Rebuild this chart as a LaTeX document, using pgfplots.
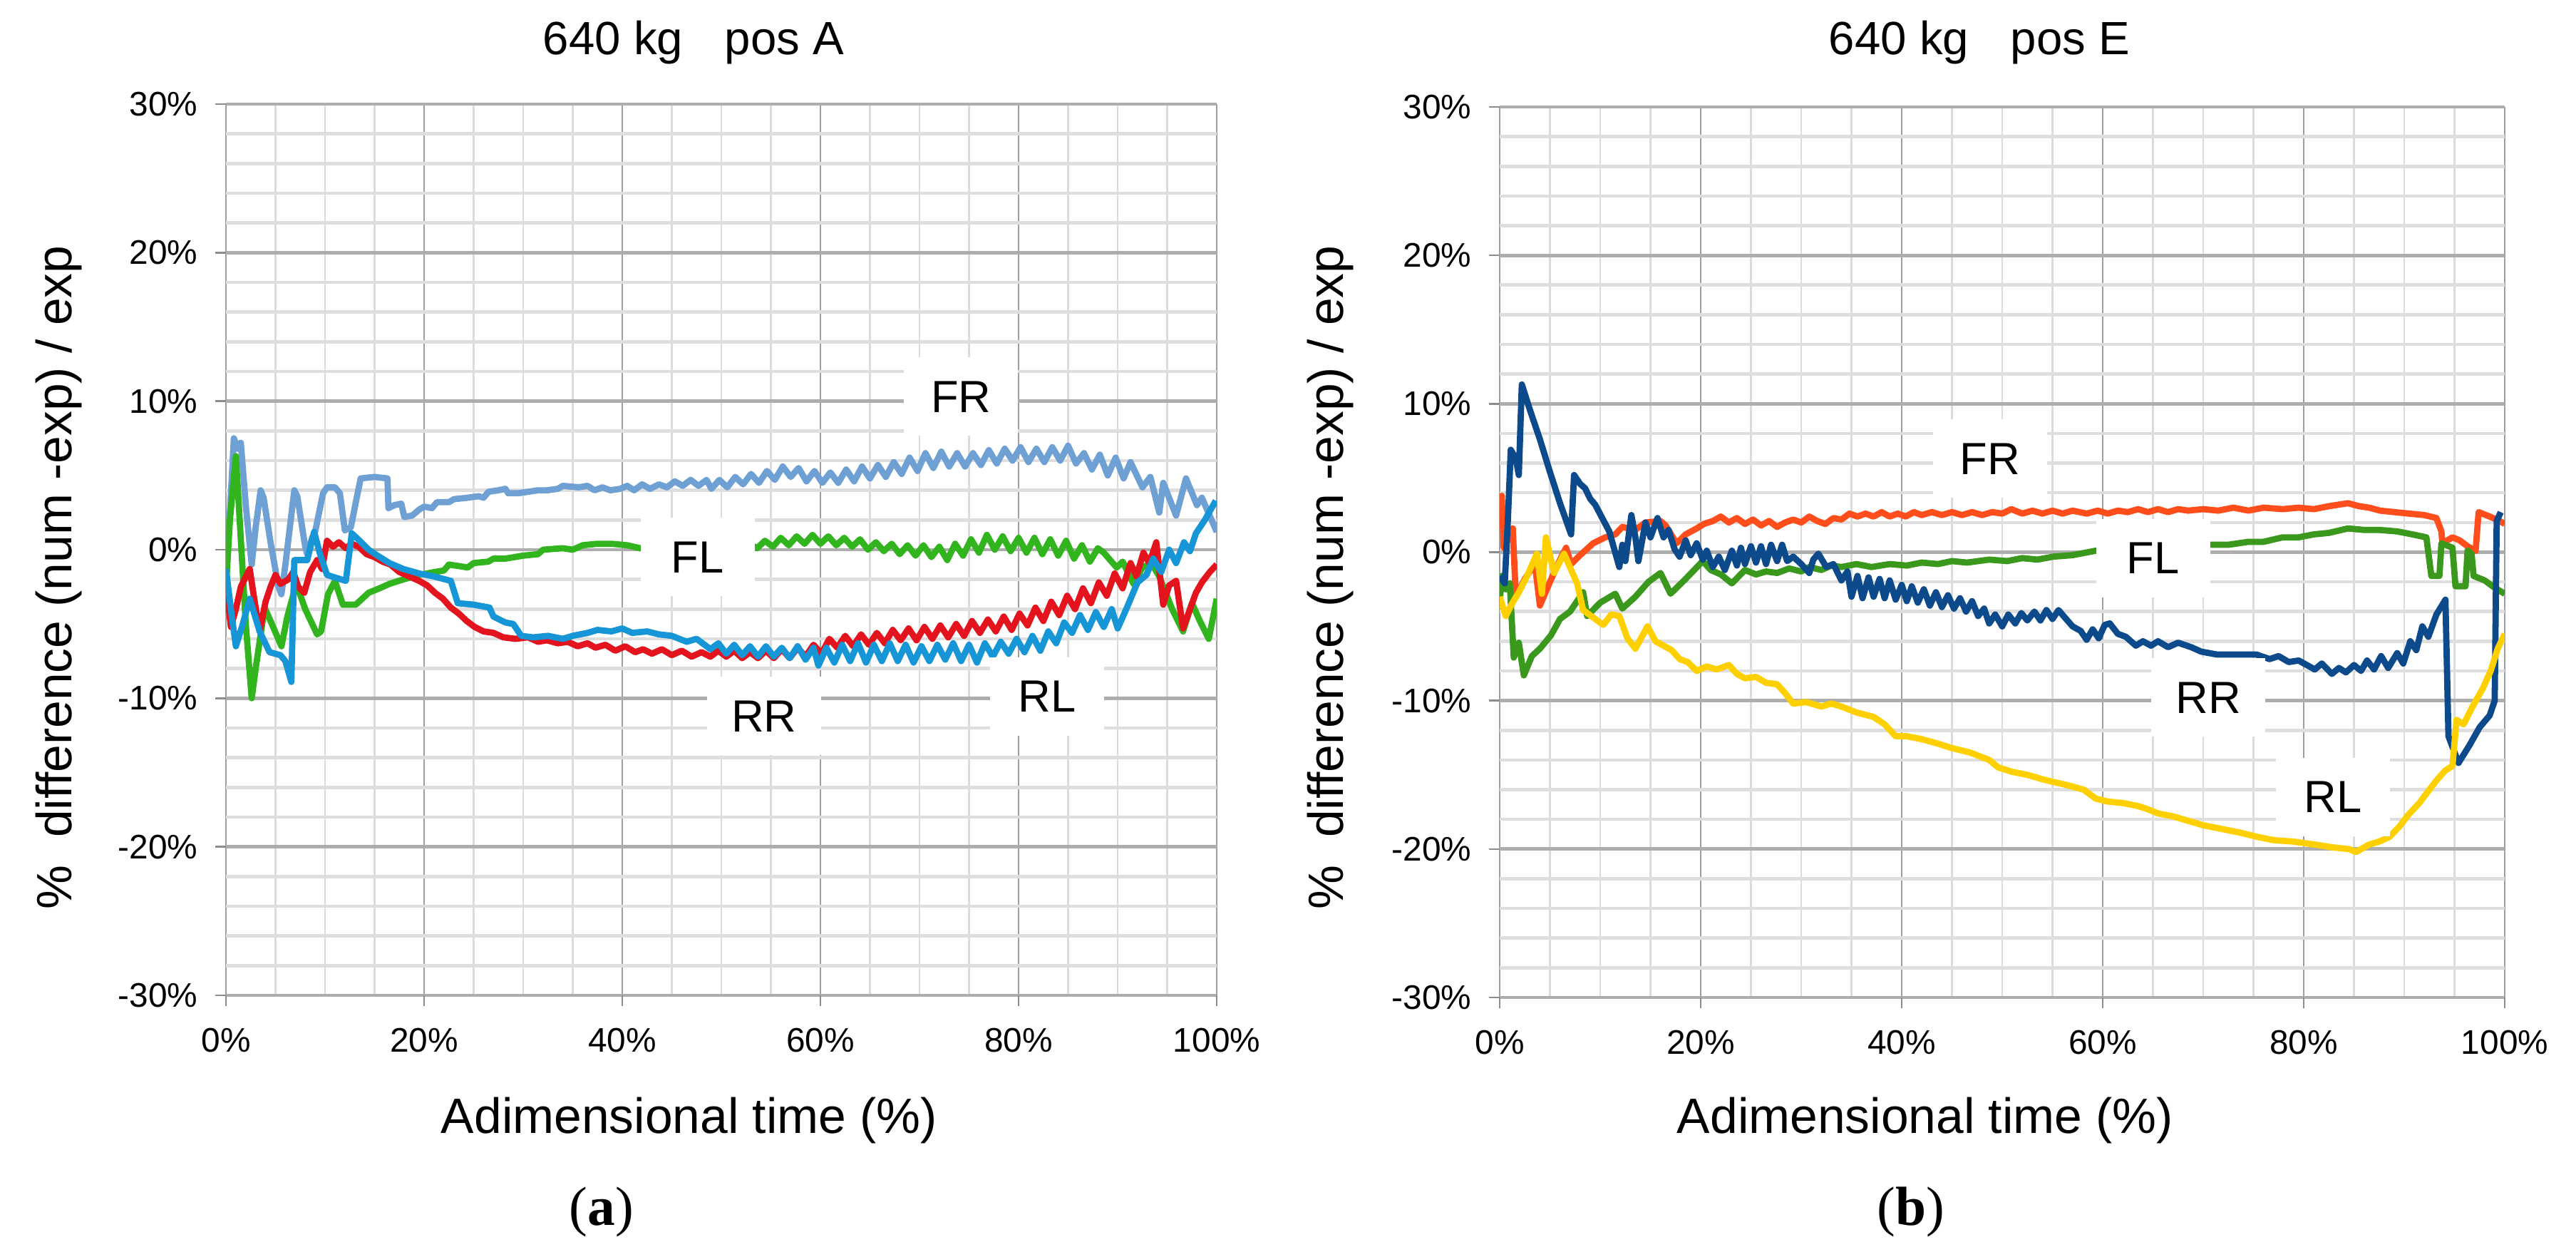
\documentclass[border=0pt]{standalone}
\usepackage{fontspec}
\setmainfont{Liberation Sans}
\newfontfamily\serifont{Liberation Serif}
\usepackage{pgfplots}
\pgfplotsset{compat=1.18}
\definecolor{lfr}{RGB}{110,160,212}
\definecolor{lfl}{RGB}{50,180,30}
\definecolor{lrr}{RGB}{228,20,30}
\definecolor{lrl}{RGB}{22,150,215}
\definecolor{rfr}{RGB}{255,78,28}
\definecolor{rfl}{RGB}{58,152,28}
\definecolor{rrr}{RGB}{12,74,140}
\definecolor{rrl}{RGB}{255,208,0}
\pgfplotsset{
  panel/.style={
    scale only axis, anchor=south west,
    xmin=0, xmax=100, ymin=-30, ymax=30,
    xtick={0,20,40,60,80,100},
    xticklabels={0\%,20\%,40\%,60\%,80\%,100\%},
    ytick={-30,-20,-10,0,10,20,30},
    yticklabels={-30\%,-20\%,-10\%,0\%,10\%,20\%,30\%},
    minor xtick={0,5,...,100},
    minor ytick={-30,-28,...,30},
    grid=both,
    major x grid style={draw=black!38, line width=0.35pt},
    minor x grid style={draw=black!14, line width=0.35pt},
    major y grid style={draw=black!32, line width=0.7pt},
    minor y grid style={draw=black!13, line width=0.65pt},
    axis line style={draw=none},
    tick pos=left, tick align=outside,
    major tick length=0.75mm, minor tick length=0pt,
    tick style={draw=black!45, line width=0.35pt},
    tick label style={font=\fontsize{6.8}{8}\selectfont},
    xticklabel style={yshift=-0.3mm},
    every axis plot/.append style={line width=1.25pt, line join=round, no markers},
  },
}
\tikzset{lbl/.style={fill=white, inner sep=0pt, minimum width=8mm, minimum height=5.5mm, font=\fontsize{9}{10}\selectfont}}
\begin{document}
\begin{tikzpicture}
\path[use as bounding box] (0,0) rectangle (180.7mm,88.15mm);
% ---------------- left panel ----------------
\begin{axis}[panel, at={(15.85mm,18.35mm)}, width=69.5mm, height=62.5mm]
% FR
\addplot[lfr] coordinates {
(0,0.6) (0.4,2.5) (0.8,7.5) (1.2,6.8) (1.5,7.2) (2.0,3.0) (2.6,-1.0) (3.0,1.5) (3.5,4.0) (3.8,3.5) (4.5,0.5) (5.3,-2.5) (5.6,-3.0) (6.0,-1.0) (6.9,4.0) (7.2,3.6) (8.0,0.2) (8.2,-0.3) (8.7,0.8) (9.0,1.2) (9.8,3.8) (10.2,4.2) (11.0,4.2) (11.5,3.8) (12.0,1.3) (12.6,1.5) (13.2,3.5) (13.6,4.8) (15.0,4.9) (16.3,4.8) (16.4,2.8) (17.0,3.0) (17.7,3.1) (18.0,2.2) (18.8,2.3) (19.5,2.7) (20.0,2.9) (20.8,2.8) (21.3,3.2) (22.5,3.2) (23.0,3.4) (24.4,3.5) (25.5,3.6) (26.0,3.5) (26.5,3.9) (27.5,4.0) (28.2,4.1) (28.5,3.8) (29.5,3.8) (30.5,3.9) (31.5,4.0) (32.4,4.0) (33.5,4.1) (34.0,4.3) (35.6,4.2) (36.5,4.3) (37.2,4.0) (38.0,4.2) (38.8,4.0) (39.8,4.1) (40.5,4.3) (41.2,4.0) (42.0,4.4) (42.8,4.1) (43.7,4.4) (44.5,4.2) (45.3,4.6) (46.1,4.3) (46.9,4.7) (47.7,4.3) (48.5,4.7)
(49.0,4.1) (49.8,4.7) (50.6,4.2) (51.4,4.9) (52.2,4.4) (53.0,5.1) (53.8,4.5) (54.6,5.3) (55.4,4.7) (56.2,5.6) (57.0,4.9) (57.8,5.5) (58.6,4.6) (59.4,5.3) (60.2,4.5) (61.0,5.2) (61.8,4.5) (62.6,5.4) (63.4,4.6) (64.2,5.6) (65.0,4.8) (65.8,5.7) (66.6,4.9) (67.4,5.9) (68.2,5.1) (69.0,6.2) (69.8,5.3) (70.6,6.5) (71.4,5.5) (72.2,6.6) (73.0,5.6) (73.8,6.5) (74.6,5.6) (75.4,6.5) (76.2,5.7) (77.0,6.7) (77.8,5.8) (78.6,6.8) (79.4,6.0) (80.2,6.9) (81.0,5.9) (81.8,6.8) (82.6,5.9) (83.4,6.9) (84.2,6.0) (85.0,7.0) (85.8,5.8) (86.6,6.5) (87.4,5.4) (88.2,6.4) (89.0,5.0) (89.8,6.2) (90.6,4.8) (91.3,5.9) (92.5,4.2) (93.3,4.9) (94.2,2.5) (94.6,4.5) (95.9,2.3) (96.9,4.8) (98.0,3.0) (98.5,3.5) (100,1.2)
};
% FL
\addplot[lfl] coordinates {
(0,-2.6) (0.4,2) (1.0,6.3) (1.3,3.0) (2.0,-5.0) (2.6,-10.0) (3.0,-8.0) (3.9,-3.9) (4.5,-4.8) (5.6,-6.5) (6.2,-4.5) (7.1,-2.3) (8.0,-4.0) (9.2,-5.7) (9.6,-5.5) (10.3,-3.0) (11.0,-2.1) (11.8,-3.7) (13.1,-3.7) (14.4,-2.9) (15.5,-2.6) (16.5,-2.3) (17.9,-2.0) (19.5,-1.7) (21.1,-1.5) (22.0,-1.4) (22.5,-1.0) (23.5,-1.1) (24.4,-1.2) (25.0,-0.9) (26.5,-0.8) (27.0,-0.6) (28.2,-0.6) (30.0,-0.4) (31.5,-0.3) (32.0,0.0) (34.0,0.1) (35.0,0.0) (36.0,0.3) (37.5,0.4) (38.9,0.4) (40.5,0.3) (41.8,0.1) (44,0.2) (47,0.3) (50,0.3) (52.8,0.4)
(53.6,0.1) (54.4,0.6) (55.2,0.2) (56.0,0.8) (56.8,0.3) (57.6,0.9) (58.4,0.4) (59.2,1.0) (60.0,0.4) (60.8,0.9) (61.6,0.3) (62.4,0.8) (63.2,0.2) (64.0,0.7) (64.8,0.0) (65.6,0.5) (66.4,-0.1) (67.2,0.4) (68.0,-0.3) (68.8,0.3) (69.6,-0.4) (70.4,0.3) (71.2,-0.5) (72.0,0.2) (72.8,-0.7) (73.6,0.4) (74.4,-0.4) (75.2,0.7) (76.0,-0.2) (76.8,1.0) (77.6,0.0) (78.4,0.9) (79.2,-0.1) (80.0,0.8) (80.8,-0.2) (81.6,0.8) (82.4,-0.3) (83.2,0.7) (84.0,-0.4) (84.8,0.6) (85.6,-0.6) (86.4,0.3) (87.2,-0.8) (88.0,0.1) (88.6,-0.2) (89.9,-1.2) (90.5,-0.8) (91.6,-2.3) (92.5,-1.2) (93.4,-0.9) (94.2,-1.8) (95.5,-4.0) (96.6,-5.5) (97.5,-3.6) (98.3,-4.8) (99.2,-6.0) (100,-3.3)
};
% RR
\addplot[lrr] coordinates {
(0,-2.3) (0.5,-5.2) (1.0,-4.0) (1.5,-2.5) (2.4,-1.3) (2.9,-3.5) (3.4,-5.5) (4.0,-3.5) (4.5,-2.5) (5.0,-1.7) (5.5,-2.3) (6.3,-2.0) (6.8,-1.5) (7.3,-2.5) (7.9,-2.9) (8.5,-1.5) (9.2,-0.7) (9.7,-1.3) (10.2,0.6) (10.8,0.2) (11.4,0.5) (12.1,0.1) (12.7,0.4) (13.4,0.2) (14.2,-0.3) (15.0,-0.5) (15.8,-0.8) (16.6,-1.0) (17.5,-1.5) (18.5,-1.8) (19.5,-2.1) (20.3,-2.4) (21.1,-2.9) (21.9,-3.3) (22.7,-3.9) (23.5,-4.3) (24.3,-4.8) (25.1,-5.2) (26.0,-5.5) (27.0,-5.6) (28.0,-5.9) (29.2,-6.0) (30.5,-5.9) (31.5,-6.2) (32.4,-6.1) (33.5,-6.3) (34.5,-6.2) (35.5,-6.5) (36.5,-6.3) (37.3,-6.6) (38.3,-6.4) (39.3,-6.8) (40.3,-6.5) (41.3,-6.9) (42.1,-6.7) (43.0,-7.0) (44.0,-6.7) (45.0,-7.1) (46.0,-6.8) (47.0,-7.2) (48.0,-6.9) (48.9,-7.2)
(49.7,-6.8) (50.5,-7.2) (51.3,-6.8) (52.1,-7.3) (52.9,-6.9) (53.7,-7.3) (54.5,-6.8) (55.3,-7.3) (56.1,-6.7) (56.9,-7.3) (57.7,-6.6) (58.5,-7.2) (59.3,-6.4) (60.1,-7.0) (60.9,-6.0) (61.7,-6.6) (62.5,-5.8) (63.3,-6.5) (64.1,-5.7) (64.9,-6.4) (65.7,-5.6) (66.5,-6.3) (67.3,-5.4) (68.1,-6.1) (68.9,-5.3) (69.7,-6.1) (70.5,-5.2) (71.3,-6.0) (72.1,-5.1) (72.9,-5.9) (73.7,-5.0) (74.5,-5.8) (75.3,-4.8) (76.1,-5.6) (76.9,-4.7) (77.7,-5.5) (78.5,-4.5) (79.3,-5.4) (80.1,-4.3) (80.9,-5.1) (81.7,-3.9) (82.5,-4.8) (83.3,-3.5) (84.1,-4.4) (84.9,-3.1) (85.7,-4.0) (86.5,-2.6) (87.3,-3.6) (88.1,-2.2) (88.9,-3.1) (89.7,-1.6) (90.5,-2.6) (91.3,-0.9) (91.9,-1.8) (92.6,-0.2) (93.2,-0.9) (93.9,0.5) (94.6,-3.7) (95.2,-2.4) (95.9,-2.1) (96.6,-5.3) (97.9,-2.9) (98.5,-2.2) (99.3,-1.5) (100,-1.0)
};
% RL
\addplot[lrl] coordinates {
(0,-1.3) (0.5,-4.0) (1.0,-6.5) (1.7,-5.0) (2.4,-3.3) (3.4,-5.5) (4.4,-6.9) (5.5,-7.1) (6.0,-7.5) (6.6,-8.9) (6.9,-0.7) (8.2,-0.7) (8.9,1.2) (9.5,-0.3) (10.2,-1.7) (12.1,-2.1) (12.7,1.1) (13.5,0.6) (14.4,0.0) (15.3,-0.4) (16.5,-0.9) (17.9,-1.3) (19.5,-1.6) (21.0,-1.8) (22.7,-2.1) (23.4,-3.6) (25.0,-3.7) (26.6,-3.9) (27.0,-4.5) (28.2,-4.9) (29.0,-5.0) (29.8,-5.8) (31.0,-5.9) (32.5,-5.8) (34.0,-6.0) (35.0,-5.8) (36.5,-5.6) (37.5,-5.4) (38.9,-5.5) (40.0,-5.3) (41.0,-5.6) (42.5,-5.5) (43.7,-5.7) (45.0,-5.8) (46.5,-6.2) (47.5,-6.0) (48.9,-6.7)
(49.7,-6.3) (50.5,-7.0) (51.3,-6.4) (52.1,-7.1) (52.9,-6.5) (53.7,-7.2) (54.5,-6.5) (55.3,-7.2) (56.1,-6.6) (56.9,-7.3) (57.7,-6.5) (58.5,-7.4) (59.3,-6.6) (59.8,-7.8) (60.6,-6.6) (61.4,-7.6) (62.2,-6.4) (63.0,-7.5) (63.8,-6.3) (64.6,-7.6) (65.4,-6.4) (66.2,-7.5) (67.0,-6.3) (67.8,-7.5) (68.6,-6.4) (69.4,-7.6) (70.2,-6.5) (71.0,-7.5) (71.8,-6.4) (72.6,-7.4) (73.4,-6.3) (74.2,-7.5) (75.0,-6.4) (75.8,-7.6) (76.6,-6.3) (77.4,-7.2) (78.2,-6.2) (79.0,-7.0) (79.8,-6.0) (80.6,-6.9) (81.4,-5.8) (82.2,-6.8) (83.0,-5.5) (83.8,-6.3) (84.6,-4.9) (85.4,-5.6) (86.2,-4.4) (87.0,-5.4) (87.8,-4.2) (88.6,-5.2) (89.4,-4.0) (90.0,-5.3) (91.0,-3.8) (92.0,-2.2) (92.9,-1.7) (93.6,-0.6) (94.4,-1.5) (95.2,0.0) (95.9,-0.9) (96.7,0.5) (97.3,-0.1) (97.9,1.1) (98.8,2.0) (99.9,3.3)
};
\node[lbl] at (axis cs:74.2,10.3) {FR};
\node[lbl] at (axis cs:47.6,-0.5) {FL};
\node[lbl] at (axis cs:54.3,-11.2) {RR};
\node[lbl] at (axis cs:82.9,-9.9) {RL};
\end{axis}
% ---------------- right panel ----------------
\begin{axis}[panel, at={(105.2mm,18.2mm)}, width=70.5mm, height=62.45mm]
% FR
\addplot[rfr] coordinates {
(0,3.1) (0.2,3.8) (0.4,0.3) (0.9,1.0) (1.3,1.6) (1.6,-3.0) (2.5,-1.8) (3.5,-0.8) (4.0,-3.6) (5.0,-2.0) (6.0,-0.5) (6.6,0.3) (7.1,-0.8) (8.0,-0.2) (9.3,0.6) (10.5,1.0) (11.5,1.2) (12.2,1.7) (13.5,1.5) (14.5,2.0) (16.0,2.1) (16.5,1.8) (17.6,0.6) (18.5,1.2) (19.6,1.6) (20.3,1.9) (21.2,2.1) (22.0,2.4) (22.8,2.0) (23.6,2.3) (24.4,1.9) (25.2,2.2) (26.0,1.8) (26.8,2.1) (27.6,1.7) (28.4,2.0) (29.2,2.2) (30.0,2.0) (30.8,2.4) (31.6,2.1) (32.4,1.9) (33.2,2.3) (34.0,2.2) (34.8,2.6) (35.6,2.4) (36.4,2.6) (37.2,2.4) (38.0,2.7) (38.8,2.4) (39.6,2.6) (40.4,2.4) (41.2,2.7) (42.0,2.5) (43.0,2.7) (44.0,2.5) (45.0,2.7) (46.0,2.5) (47.0,2.7) (48.0,2.5) (49.0,2.7) (50.0,2.6) (50.9,2.9) (52.0,2.6) (53.0,2.8) (54.0,2.6) (55.0,2.8) (56.0,2.6) (57.0,2.8) (58.4,2.6) (59.5,2.8) (60.5,2.6) (61.5,2.8) (62.5,2.7) (63.5,2.9) (64.5,2.7) (65.5,2.9) (66.5,2.7) (67.5,2.9) (68.5,2.8) (70,2.9) (71.5,2.8) (73,3.0) (74.5,2.8) (76,3.0) (77.9,2.9) (79.5,3.0) (81,2.9) (82.5,3.1) (84.4,3.3) (85.5,3.1) (86.5,3.0) (87.6,2.8) (89,2.7) (90.5,2.6) (92,2.5) (93.2,2.3) (93.7,1.4) (93.8,0.6) (94.8,1.0) (95.5,0.8) (96.3,0.4) (97.1,0.1) (97.4,2.7) (98.5,2.4) (99.5,2.1) (100,1.9)
};
% FL
\addplot[rfl] coordinates {
(0,-3.4) (0.2,-1.6) (0.6,-2.5) (1.0,-2.1) (1.4,-7.1) (1.9,-6.1) (2.4,-8.3) (3.2,-7.0) (4.0,-6.5) (5.1,-5.6) (6.0,-4.5) (7.0,-4.0) (8.3,-2.7) (8.7,-4.3) (10.0,-3.4) (11.5,-2.8) (12.2,-3.8) (13.5,-3.0) (14.8,-2.0) (16.0,-1.4) (17.0,-2.8) (18.5,-1.8) (20.2,-0.6) (21.0,-1.2) (22.0,-1.5) (23.1,-2.1) (24.4,-1.2) (25.5,-1.5) (26.5,-1.3) (27.6,-1.4) (28.8,-1.1) (30.0,-1.3) (30.8,-1.0) (32.0,-1.2) (33.0,-0.9) (34.0,-1.0) (35.5,-0.8) (37.0,-1.0) (38.8,-0.8) (40.5,-0.9) (42.0,-0.7) (43.6,-0.8) (45.0,-0.6) (46.5,-0.7) (48.7,-0.5) (50.5,-0.6) (52.0,-0.4) (53.5,-0.5) (55.1,-0.3) (57.0,-0.2) (59.3,0.1) (62.0,0.1) (65.0,0.3) (68.0,0.3) (70.7,0.5) (72.5,0.5) (74.5,0.7) (76.0,0.7) (77.9,1.0) (79.5,1.0) (81.0,1.2) (82.5,1.3) (84.4,1.6) (86.0,1.5) (87.5,1.5) (89.3,1.4) (90.8,1.2) (92.2,1.0) (92.7,-1.6) (93.5,-1.6) (93.7,0.6) (94.8,0.3) (95.1,-2.3) (96.1,-2.3) (96.3,0.1) (96.7,-0.1) (96.9,-1.6) (98.0,-1.9) (99.0,-2.4) (100,-2.8)
};
% RR
\addplot[rrr] coordinates {
(0,-1.6) (0.5,-2.1) (0.8,2.0) (1.1,6.9) (1.6,6.3) (1.9,5.2) (2.2,11.3) (3.0,9.6) (4.0,7.6) (5.0,5.4) (6.0,3.3) (7.1,1.2) (7.4,5.2) (8.0,4.6) (8.5,4.3) (9.0,3.6) (9.5,3.2) (10.2,2.3) (10.9,1.4) (11.4,0.2) (11.9,-1.0) (12.2,0.5) (12.5,-0.6) (13.1,2.5) (13.5,1.0) (13.8,-0.6) (14.5,2.0) (15.0,1.0) (15.7,2.3) (16.3,1.0) (16.8,1.5) (17.4,0.2) (17.9,-0.3) (18.5,0.8) (19.0,-0.2) (19.6,0.6) (20.2,-0.5) (20.6,0.1) (21.2,-1.0) (21.8,-0.3) (22.4,-1.2) (23.1,0.1) (23.6,-0.9) (24.0,0.3) (24.4,-0.8) (25.0,0.4) (25.5,-0.7) (26.0,0.4) (26.5,-0.8) (27.0,0.5) (27.6,-0.6) (28.1,0.5) (28.6,-0.6) (29.2,-0.3) (30.0,-0.8) (30.8,-1.4) (31.2,-0.5) (31.7,-0.1) (32.5,-1.0) (33.2,-0.8) (34.0,-1.9) (34.6,-1.3) (35.0,-3.0) (35.6,-1.6) (36.1,-3.1) (36.7,-1.7) (37.2,-3.0) (37.8,-1.8) (38.3,-3.1) (38.8,-1.9) (39.4,-3.2) (40.0,-2.2) (40.5,-3.3) (41.0,-2.3) (41.6,-3.4) (42.2,-2.5) (42.8,-3.6) (43.4,-2.7) (44.0,-3.7) (44.6,-2.9) (45.2,-3.8) (45.8,-3.1) (46.4,-4.0) (47.0,-3.3) (47.6,-4.3) (48.2,-3.8) (48.7,-4.8) (49.3,-4.2) (50.0,-5.0) (50.6,-4.2) (51.3,-4.8) (51.9,-4.1) (52.5,-4.6) (53.2,-4.0) (53.8,-4.6) (54.4,-3.9) (55.0,-4.5) (55.6,-3.9) (56.1,-4.3) (57.0,-5.0) (57.8,-5.3) (58.4,-5.9) (59.0,-5.2) (59.6,-5.8) (60.2,-4.9) (60.7,-4.8) (61.5,-5.5) (62.3,-5.7) (63.3,-6.3) (64.0,-6.0) (64.8,-6.3) (65.5,-6.0) (66.5,-6.4) (67.5,-6.1) (68.8,-6.4) (69.8,-6.7) (71.4,-6.9) (73.0,-6.9) (75.3,-6.9) (76.6,-7.2) (77.5,-7.0) (78.5,-7.4) (79.5,-7.3) (80.3,-7.6) (81.1,-7.9) (81.8,-7.5) (82.8,-8.2) (83.5,-7.8) (84.2,-8.1) (85.0,-7.6) (85.7,-8.0) (86.3,-7.3) (87.0,-7.9) (87.7,-7.0) (88.4,-7.8) (89.3,-6.8) (89.9,-7.5) (90.6,-6.0) (91.2,-6.6) (91.8,-5.0) (92.4,-5.7) (93.2,-4.2) (94.1,-3.2) (94.4,-12.4) (95.4,-14.2) (96.5,-13.0) (97.5,-11.8) (98.5,-11.0) (99.0,-10.0) (99.2,2.1) (99.6,2.7)
};
% RL
\addplot[rrl] coordinates {
(0,-3.0) (0.6,-4.3) (1.2,-3.5) (1.9,-2.7) (2.8,-1.5) (3.7,-0.1) (4.2,-2.8) (4.6,1.0) (5.4,-1.4) (6.4,-0.1) (7.7,-2.1) (8.3,-3.9) (9.3,-4.4) (10.3,-4.9) (11.1,-4.2) (11.9,-4.3) (12.7,-5.8) (13.5,-6.5) (14.7,-5.0) (15.5,-6.0) (16.3,-6.3) (17.1,-6.6) (17.9,-7.2) (18.7,-7.4) (19.6,-8.0) (20.6,-7.7) (21.6,-7.9) (22.8,-7.6) (23.6,-8.2) (24.4,-8.5) (25.5,-8.4) (26.5,-8.8) (27.6,-8.9) (28.4,-9.5) (29.2,-10.2) (30.5,-10.1) (32.0,-10.4) (33.0,-10.2) (34.0,-10.4) (35.5,-10.8) (37.2,-11.1) (38.3,-11.6) (39.4,-12.4) (40.5,-12.4) (42.0,-12.6) (43.6,-12.9) (45.0,-13.2) (46.8,-13.5) (48.7,-14.0) (49.6,-14.5) (51.0,-14.8) (52.5,-15.0) (54.0,-15.3) (55.2,-15.5) (56.5,-15.7) (58.1,-16.0) (59.3,-16.6) (60.5,-16.8) (62.0,-16.9) (63.5,-17.1) (64.4,-17.3) (65.5,-17.6) (67.0,-17.8) (68.5,-18.1) (70.0,-18.4) (71.5,-18.6) (73.7,-18.9) (75.5,-19.2) (77.0,-19.4) (79.0,-19.5) (81.1,-19.7) (83.0,-19.9) (84.5,-20.0) (85.2,-20.2) (86.5,-19.7) (87.5,-19.5) (88.5,-19.2) (89.5,-18.5) (90.4,-17.7) (91.5,-16.9) (92.5,-16.0) (93.3,-15.3) (94.1,-14.7) (94.8,-14.4) (95.2,-11.3) (95.9,-11.6) (96.8,-10.4) (97.8,-9.2) (98.6,-8.0) (99.3,-6.5) (100,-5.5)
};
\node[lbl] at (axis cs:48.8,6.3) {FR};
\node[lbl] at (axis cs:65.0,-0.4) {FL};
\node[lbl] at (axis cs:70.5,-9.8) {RR};
\node[lbl] at (axis cs:82.9,-16.5) {RL};
\end{axis}
% ---------------- outer texts ----------------
\node[anchor=base, font=\fontsize{9.3}{11}\selectfont] at (48.65mm,84.3mm) {640 kg\hspace{0.9em}pos A};
\node[anchor=base, font=\fontsize{9.3}{11}\selectfont] at (138.85mm,84.3mm) {640 kg\hspace{0.9em}pos E};
\node[anchor=base, font=\fontsize{9.9}{12}\selectfont] at (48.35mm,8.65mm) {Adimensional time (\%)};
\node[anchor=base, font=\fontsize{9.9}{12}\selectfont] at (135.05mm,8.65mm) {Adimensional time (\%)};
\node[rotate=90, font=\fontsize{9.9}{12}\selectfont] at (4.15mm,47.65mm) {\%\ \ difference (num -exp) / exp};
\node[rotate=90, font=\fontsize{9.9}{12}\selectfont] at (93.3mm,47.65mm) {\%\ \ difference (num -exp) / exp};
\node[font=\serifont\fontsize{11}{13}\selectfont] at (42.2mm,3.15mm) {(\textbf{a})};
\node[font=\serifont\fontsize{11}{13}\selectfont] at (134.05mm,3.15mm) {(\textbf{b})};
\end{tikzpicture}
\end{document}
